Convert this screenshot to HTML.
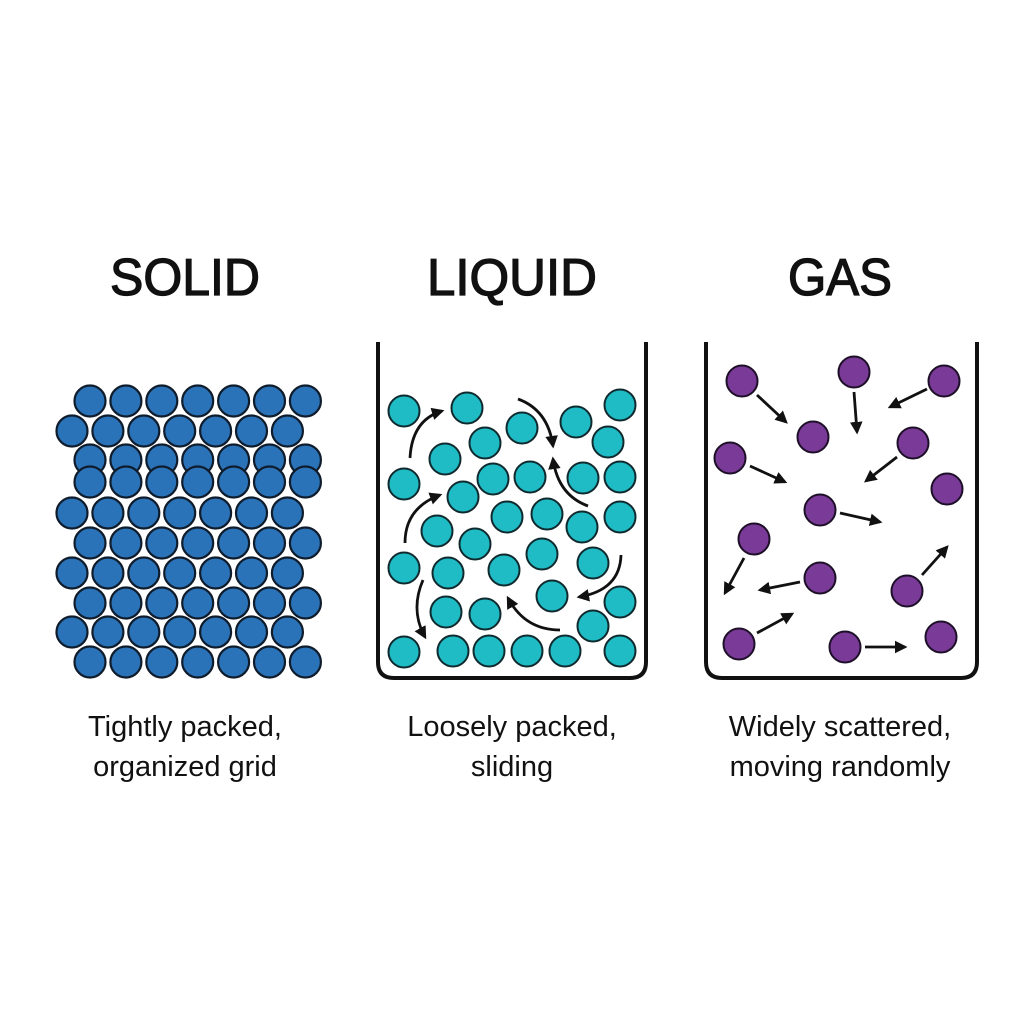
<!DOCTYPE html>
<html><head><meta charset="utf-8"><style>
html,body{margin:0;padding:0;background:#fff;}
svg{display:block;}
text{font-family:"Liberation Sans",sans-serif;fill:#111;}
</style></head><body>
<svg width="1024" height="1024" viewBox="0 0 1024 1024" xmlns="http://www.w3.org/2000/svg">
<defs>
<marker id="ah" viewBox="0 0 10 10" refX="8" refY="5" markerWidth="4.5" markerHeight="4.5" orient="auto"><path d="M0,0 L10,5 L0,10 z" fill="#111"/></marker>
</defs>
<rect width="1024" height="1024" fill="#fff"/>
<g text-anchor="middle">
<g stroke="#111" stroke-width="1.3">
<text x="185" y="295" font-size="52" textLength="150" lengthAdjust="spacingAndGlyphs">SOLID</text>
<text x="512" y="295" font-size="52" textLength="170" lengthAdjust="spacingAndGlyphs">LIQUID</text>
<text x="840" y="295" font-size="52" textLength="104" lengthAdjust="spacingAndGlyphs">GAS</text>
</g>
<text x="185" y="736" font-size="29">Tightly packed,</text>
<text x="185" y="776" font-size="29">organized grid</text>
<text x="512" y="736" font-size="29">Loosely packed,</text>
<text x="512" y="776" font-size="29">sliding</text>
<text x="840" y="736" font-size="29">Widely scattered,</text>
<text x="840" y="776" font-size="29">moving randomly</text>
</g>
<g id="solid" fill="#2b73b9" stroke="#0f1c2c" stroke-width="2.2"></g>
<path d="M378,342 V662 Q378,678 394,678 H630 Q646,678 646,662 V342" fill="none" stroke="#111" stroke-width="4"/>
<path d="M706,342 V662 Q706,678 722,678 H961 Q977,678 977,662 V342" fill="none" stroke="#111" stroke-width="4"/>
<g id="liq" fill="#1fbcc6" stroke="#0f2a2e" stroke-width="2"></g>
<g fill="none" stroke="#111" stroke-width="2.8" marker-end="url(#ah)">
<path d="M410,458 Q412,420 442,411"/>
<path d="M518,399 Q548,410 553,446"/>
<path d="M588,506 Q558,495 553,459"/>
<path d="M405,543 Q405,508 440,495"/>
<path d="M423,580 Q410,610 425,637"/>
<path d="M621,555 Q620,590 579,597"/>
<path d="M560,630 Q525,630 508,598"/>
</g>
<g id="gas" fill="#7a3a98" stroke="#1e0f28" stroke-width="2"></g>
<g fill="none" stroke="#111" stroke-width="2.8" marker-end="url(#ah)">
<line x1="757" y1="395" x2="786" y2="422"/>
<line x1="854" y1="392" x2="857" y2="432"/>
<line x1="927" y1="389" x2="890" y2="407"/>
<line x1="750" y1="466" x2="785" y2="482"/>
<line x1="897" y1="457" x2="866" y2="481"/>
<line x1="840" y1="513" x2="880" y2="522"/>
<line x1="744" y1="558" x2="725" y2="593"/>
<line x1="800" y1="582" x2="760" y2="590"/>
<line x1="922" y1="575" x2="947" y2="547"/>
<line x1="757" y1="633" x2="792" y2="614"/>
<line x1="865" y1="647" x2="905" y2="647"/>
</g>
</svg>
<script>
var ns="http://www.w3.org/2000/svg";
function c(g,x,y,r){var e=document.createElementNS(ns,"circle");e.setAttribute("cx",x);e.setAttribute("cy",y);e.setAttribute("r",r);document.getElementById(g).appendChild(e);}
var rows=[[401,'A'],[431,'B'],[460,'A'],[482,'A'],[513,'B'],[543,'A'],[573,'B'],[603,'A'],[632,'B'],[662,'A']];
rows.forEach(function(r){var x0=r[1]=='A'?90:72;for(var i=0;i<7;i++)c('solid',x0+i*35.9,r[0],15.5);});
[[404,411],[467,408],[522,428],[576,422],[620,405],[485,443],[608,442],[445,459],[404,484],[493,479],[530,477],[583,478],[620,477],[463,497],[507,517],[547,514],[582,527],[620,517],[437,531],[475,544],[542,554],[593,563],[404,568],[448,573],[504,570],[552,596],[620,602],[446,612],[485,614],[593,626],[404,652],[453,651],[489,651],[527,651],[565,651],[620,651]].forEach(function(p){c('liq',p[0],p[1],15.5);});
[[742,381],[854,372],[944,381],[813,437],[913,443],[730,458],[947,489],[820,510],[754,539],[820,578],[907,591],[739,644],[845,647],[941,637]].forEach(function(p){c('gas',p[0],p[1],15.5);});
</script>
</body></html>
